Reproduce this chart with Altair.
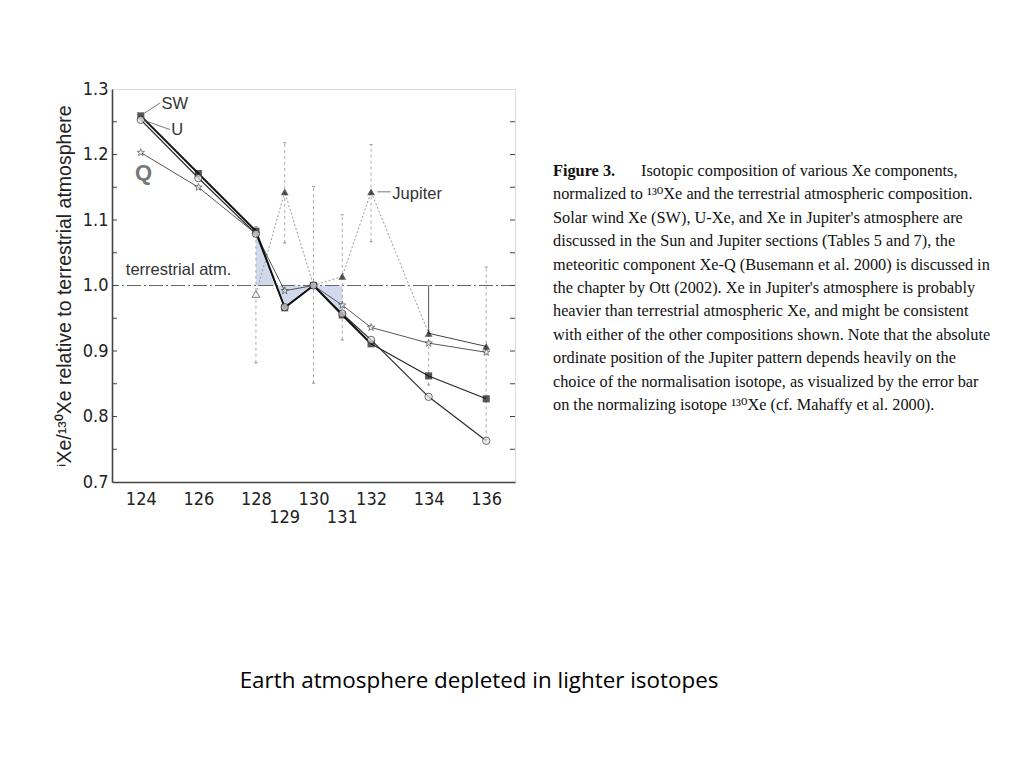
import altair as alt
import pandas as pd

# ---------------- data ----------------
isotopes = [124, 126, 128, 129, 130, 131, 132, 134, 136]
sw = [1.259, 1.171, 1.083, 0.966, 1.000, 0.955, 0.911, 0.862, 0.827]
u_xe = [1.253, 1.164, 1.079, 0.967, 1.000, 0.957, 0.917, 0.830, 0.763]
q_xe = [1.203, 1.150, 1.079, 0.992, 1.000, 0.970, 0.936, 0.912, 0.898]

jup_iso = [128, 129, 130, 131, 132, 134, 136]
jup = [0.987, 1.143, 1.000, 1.014, 1.143, 0.927, 0.907]
jup_lo = [0.882, 1.065, 0.851, 0.917, 1.067, 0.848, 0.765]
jup_hi = [1.090, 1.218, 1.151, 1.108, 1.215, 1.000, 1.028]

x_labels_main = [124, 126, 128, 130, 132, 134, 136]
x_labels_low = [129, 131]
y_labels = [0.7, 0.8, 0.9, 1.0, 1.1, 1.2, 1.3]
y_minor = [0.75, 0.8, 0.85, 0.9, 0.95, 1.0, 1.05, 1.1, 1.15, 1.2, 1.25]

caption_first = "Isotopic composition of various Xe components,"
caption_lines = [
    "normalized to \u00b9\u00b3\u2070Xe and the terrestrial atmospheric composition.",
    "Solar wind Xe (SW), U-Xe, and Xe in Jupiter's atmosphere are",
    "discussed in the Sun and Jupiter sections (Tables 5 and 7), the",
    "meteoritic component Xe-Q (Busemann et al. 2000) is discussed in",
    "the chapter by Ott (2002). Xe in Jupiter's atmosphere is probably",
    "heavier than terrestrial atmospheric Xe, and might be consistent",
    "with either of the other compositions shown. Note that the absolute",
    "ordinate position of the Jupiter pattern depends heavily on the",
    "choice of the normalisation isotope, as visualized by the error bar",
    "on the normalizing isotope \u00b9\u00b3\u2070Xe (cf. Mahaffy et al. 2000).",
]
bottom_text = "Earth atmosphere depleted in lighter isotopes"
y_title = "\u2071Xe/\u00b9\u00b3\u2070Xe relative to terrestrial atmosphere"

# ---------------- layout ----------------
W, H = 403, 393
SANS = "Liberation Sans Narrow, DejaVu Sans Condensed, Liberation Sans"
SERIF = "Liberation Serif, DejaVu Serif"
CAP = 16.3

xs = alt.Scale(domain=[123, 137], nice=False, zero=False)
ys = alt.Scale(domain=[0.7, 1.3], nice=False, zero=False)

x_axis = alt.Axis(values=x_labels_main, ticks=False, grid=False, labelFont=SANS,
                  labelFontSize=18, labelColor="#222", labelPadding=8,
                  domainColor="#444", domainWidth=1.6, title=None)
y_axis = alt.Axis(values=y_labels, format=".1f", ticks=False, grid=False, labelFont=SANS,
                  labelFontSize=18, labelColor="#222", labelPadding=4,
                  domainColor="#444", domainWidth=1.6, title=y_title,
                  titleFont="Liberation Sans", titleFontSize=19.5, titleFontWeight="normal",
                  titleColor="#222", titlePadding=8)


def X(field):
    return alt.X(field, type="quantitative", scale=xs, axis=x_axis, title=None)


def Y(field):
    return alt.Y(field, type="quantitative", scale=ys, axis=y_axis, title=y_title)


df_sw = pd.DataFrame({"iso": isotopes, "val": sw})
df_u = pd.DataFrame({"iso": isotopes, "val": u_xe})
df_q = pd.DataFrame({"iso": isotopes, "val": q_xe})
df_j = pd.DataFrame({"iso": jup_iso, "val": jup, "lo": jup_lo, "hi": jup_hi})
one = pd.DataFrame({"k": [0]})

STAR = ("M0,-1L0.2245,-0.309L0.951,-0.309L0.363,0.118L0.588,0.809L0,0.382"
        "L-0.588,0.809L-0.363,0.118L-0.951,-0.309L-0.2245,-0.309Z")

layers = []

# shaded region between SW and terrestrial composition (128-131)
shade = (alt.Chart(df_sw).transform_filter("datum.iso >= 128 && datum.iso <= 131")
         .transform_calculate(base="1.0")
         .mark_area(color="#c9d3ea", opacity=0.85)
         .encode(x=X("iso"), y=Y("val"), y2="base:Q"))
layers.append(shade)

# terrestrial atm. reference line
layers.append(alt.Chart(one).mark_rule(color="#666", strokeWidth=1, strokeDash=[14, 3, 2, 3])
              .encode(y=alt.datum(1.0, scale=ys)))

# Jupiter error bars
layers.append(alt.Chart(df_j).transform_filter("datum.iso != 134")
              .mark_rule(color="#aaa", strokeWidth=1, strokeDash=[3, 3])
              .encode(x=X("iso"), y=Y("lo"), y2="hi:Q"))
layers.append(alt.Chart(df_j).transform_filter("datum.iso == 134")
              .mark_rule(color="#555", strokeWidth=1)
              .encode(x=X("iso"), y=Y("val"), y2="hi:Q"))
layers.append(alt.Chart(df_j).transform_filter("datum.iso == 134")
              .mark_rule(color="#aaa", strokeWidth=1, strokeDash=[3, 3])
              .encode(x=X("iso"), y=Y("lo"), y2="val:Q"))
for f in ["lo", "hi"]:
    layers.append(alt.Chart(df_j).mark_tick(color="#777", size=3, thickness=1.2, orient="horizontal")
                  .encode(x=X("iso"), y=Y(f)))

# Jupiter line
layers.append(alt.Chart(df_j).transform_filter("datum.iso <= 134")
              .mark_line(color="#999", strokeWidth=1, strokeDash=[2, 2])
              .encode(x=X("iso"), y=Y("val")))
layers.append(alt.Chart(df_j).transform_filter("datum.iso >= 134")
              .mark_line(color="#444", strokeWidth=1)
              .encode(x=X("iso"), y=Y("val")))

# Xe component lines
layers.append(alt.Chart(df_q).mark_line(color="#444", strokeWidth=0.9).encode(x=X("iso"), y=Y("val")))
layers.append(alt.Chart(df_u).mark_line(color="#333", strokeWidth=1.3).encode(x=X("iso"), y=Y("val")))
layers.append(alt.Chart(df_sw).transform_filter("datum.iso <= 132")
              .mark_line(color="#111", strokeWidth=1.9).encode(x=X("iso"), y=Y("val")))
layers.append(alt.Chart(df_sw).transform_filter("datum.iso >= 132")
              .mark_line(color="#222", strokeWidth=1.1).encode(x=X("iso"), y=Y("val")))

# markers
layers.append(alt.Chart(df_q).mark_point(shape=STAR, size=60, filled=True, fill="white",
                                         stroke="#333", strokeWidth=0.9)
              .encode(x=X("iso"), y=Y("val")))
layers.append(alt.Chart(df_sw).mark_point(shape="square", size=50, filled=True, color="#111")
              .encode(x=X("iso"), y=Y("val")))
layers.append(alt.Chart(df_u).mark_point(shape="circle", size=55, filled=True, fill="#e6e6e6",
                                         stroke="#333", strokeWidth=1)
              .encode(x=X("iso"), y=Y("val")))
layers.append(alt.Chart(df_j).transform_filter("datum.iso != 128 && datum.iso != 130")
              .mark_point(shape="triangle-up", size=60, filled=True, color="#111")
              .encode(x=X("iso"), y=Y("val")))
layers.append(alt.Chart(df_j).transform_filter("datum.iso == 128")
              .mark_point(shape="triangle-up", size=60, filled=True, fill="white",
                          stroke="#444", strokeWidth=1)
              .encode(x=X("iso"), y=Y("val")))

# inner ticks on left and right frame
df_minor = pd.DataFrame({"v": y_minor})
layers.append(alt.Chart(df_minor).mark_rule(color="#444", strokeWidth=1)
              .encode(y=Y("v"), x=alt.value(0), x2=alt.value(5)))
layers.append(alt.Chart(df_minor).mark_rule(color="#444", strokeWidth=1)
              .encode(y=Y("v"), x=alt.value(W - 5), x2=alt.value(W)))

# secondary x labels (129, 131)
layers.append(alt.Chart(pd.DataFrame({"iso": x_labels_low}))
              .mark_text(font=SANS, fontSize=18, color="#222", baseline="middle")
              .encode(x=X("iso"), y=alt.value(429), text=alt.Text("iso:Q", format="d")))


# annotations
def leader(x1, y1, x2, y2):
    return (alt.Chart(one).mark_rule(color="#555", strokeWidth=0.8)
            .encode(x=alt.datum(x1, scale=xs), x2=alt.datum(x2), y=alt.datum(y1, scale=ys), y2=alt.datum(y2)))


def label(txt, x, y, size=16.5, color="#333", weight="normal", font="Liberation Sans"):
    return (alt.Chart(one).mark_text(text=txt, font=font, fontSize=size, color=color,
                                     fontWeight=weight, align="left", baseline="middle")
            .encode(x=alt.datum(x, scale=xs), y=alt.datum(y, scale=ys)))


layers += [
    leader(124.12, 1.263, 124.68, 1.279),
    label("SW", 124.72, 1.2775),
    leader(124.12, 1.252, 125.02, 1.238),
    label("U", 125.06, 1.237),
    label("Q", 123.80, 1.172, size=22, color="#777", weight="bold"),
    leader(132.22, 1.143, 132.68, 1.143),
    label("Jupiter", 132.74, 1.140),
    label("terrestrial atm.", 123.48, 1.023),
]

# caption on the right
CX = 441
layers.append(alt.Chart(one).mark_text(text="Figure 3.", font=SERIF, fontSize=CAP, fontWeight="bold",
                                       color="#111", align="left", baseline="middle")
              .encode(x=alt.value(CX), y=alt.value(82)))
layers.append(alt.Chart(one).mark_text(text=caption_first, font=SERIF, fontSize=CAP,
                                       color="#111", align="left", baseline="middle")
              .encode(x=alt.value(CX + 88), y=alt.value(82)))
for i, line in enumerate(caption_lines):
    layers.append(alt.Chart(one).mark_text(text=line, font=SERIF, fontSize=CAP,
                                           color="#111", align="left", baseline="middle")
                  .encode(x=alt.value(CX), y=alt.value(82 + 23.4 * (i + 1))))

# slide subtitle
layers.append(alt.Chart(one).mark_text(text=bottom_text, font="Open Sans", fontSize=22.4,
                                       color="#000", align="center", baseline="middle")
              .encode(x=alt.value(367), y=alt.value(592)))

chart = (alt.layer(*layers)
         .properties(width=W, height=H,
                     autosize=alt.AutoSizeParams(type="none"),
                     padding={"left": 104, "top": 81, "right": 490, "bottom": 262})
         .configure_view(stroke="#666", strokeWidth=1)
         .configure(background="white"))

chart.save("out.html", embed_options={"renderer": "svg", "actions": False})
